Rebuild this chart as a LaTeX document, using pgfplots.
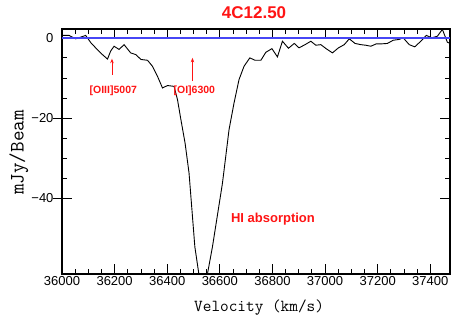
\documentclass[border=0pt]{standalone}
\usepackage{pgfplots}
\pgfplotsset{compat=1.18}
\usetikzlibrary{arrows.meta}
\usepackage{fontspec}
\setmainfont{Liberation Sans}
\definecolor{annred}{RGB}{255,20,20}
\definecolor{zeroblue}{RGB}{70,70,245}
\begin{document}
\begin{tikzpicture}
\useasboundingbox (-62bp,-44bp) rectangle (389bp,274bp);
\begin{axis}[
  scale only axis,
  width=388bp, height=245bp,
  xmin=36000, xmax=37475,
  ymin=-58.9, ymax=2.2,
  xtick={36000,36200,...,37400},
  ytick={-40,-20,0},
  yticklabels={−40,−20,0},
  scaled x ticks=false,
  minor x tick num=3,
  minor y tick num=3,
  tick align=inside,
  major tick length=10bp,
  minor tick length=5bp,
  every tick/.style={black, line width=0.8bp},
  axis line style={line width=1.6bp},
  /pgf/number format/.cd, 1000 sep={}, assume math mode=true,
  /pgfplots/.cd,
  tick label style={font=\fontsize{13bp}{15bp}\selectfont},
  yticklabel style={xshift=-5bp},
  xticklabel style={yshift=1bp},
  xlabel={Velocity (km/s)},
  ylabel={mJy/Beam},
  xlabel style={font=\ttfamily\fontsize{16.8bp}{18bp}\selectfont, at={(rel axis cs:0.508,-0.139)}, anchor=center},
  ylabel style={font=\ttfamily\fontsize{20.5bp}{22bp}\selectfont, at={(rel axis cs:-0.111,0.496)}, anchor=center, rotate=0},
  clip mode=individual,
]
\addplot[black, line width=0.9bp] coordinates {
(36000,0.6) (36027,0.6) (36052,-0.25) (36090,0.6) (36110,-1.25) (36128,-2.5)
(36154,-4.2) (36173,-5.3) (36185,-3.3) (36198,-2.1) (36217,-2.9) (36236,-1.7)
(36261,-3.75) (36281,-4.2) (36300,-5.4) (36325,-5.6) (36344,-7.1) (36363,-9.6)
(36382,-12.5) (36401,-11.9) (36426,-12.1) (36439,-15.4) (36452,-20.4) (36468,-26.3)
(36483,-33.75) (36505,-52.1) (36525,-61) (36547,-61) (36572,-52.1) (36610,-36.25)
(36635,-22.9) (36654,-16.25) (36673,-10.4) (36692,-7.1) (36714,-5) (36734,-5.6)
(36756,-5.6) (36775,-3.6) (36798,-2.7) (36819,-4.75) (36838,-0.85) (36861,-2.6)
(36883,-1.4) (36901,-2.5) (36924,-1.7) (36946,-0.85) (36965,-1.85) (36984,-1.7)
(37005,-2.75) (37028,-3.75) (37051,-2.5) (37073,-1.7) (37092,-0.25) (37114,-1.4)
(37136,-1.7) (37155,-1.85) (37174,-2.1) (37195,-1.5) (37216,-1.5) (37237,-1.4)
(37259,-0.6) (37282,-0.4) (37297,0) (37320,-1.7) (37341,-2.25) (37364,-0.85)
(37385,0.6) (37406,0) (37427,0.4) (37446,2.1) (37465,-1.1) (37476,-1.4)
};
\draw[black, line width=0.8bp] ([xshift=-9bp]axis cs:36000,-20) -- (axis cs:36000,-20);
\draw[black, line width=0.8bp] ([xshift=-9bp]axis cs:36000,-40) -- (axis cs:36000,-40);
\draw[annred, line width=0.8bp, -{Stealth[length=4.5bp,width=3.5bp]}] (axis cs:36190,-9.2) -- (axis cs:36190,-5.2);
\draw[annred, line width=0.8bp, -{Stealth[length=4.5bp,width=3.5bp]}] (axis cs:36496,-10.8) -- (axis cs:36496,-5.0);
\node[annred, font=\bfseries\fontsize{10.5bp}{12bp}\selectfont] at (axis cs:36195,-13.3) {[OIII]5007};
\node[annred, font=\bfseries\fontsize{10.5bp}{12bp}\selectfont] at (axis cs:36503,-13.3) {[OI]6300};
\node[annred, font=\bfseries\fontsize{13bp}{15bp}\selectfont, anchor=west, inner sep=0pt] at (axis cs:36642,-45.2) {HI absorption};
\node[annred, font=\bfseries\fontsize{17bp}{19bp}\selectfont] at (rel axis cs:0.495,1.065) {4C12.50};
\addplot[color=zeroblue, line width=1.5bp] coordinates {(36000,0) (37475,0)};
\end{axis}
\end{tikzpicture}
\end{document}
